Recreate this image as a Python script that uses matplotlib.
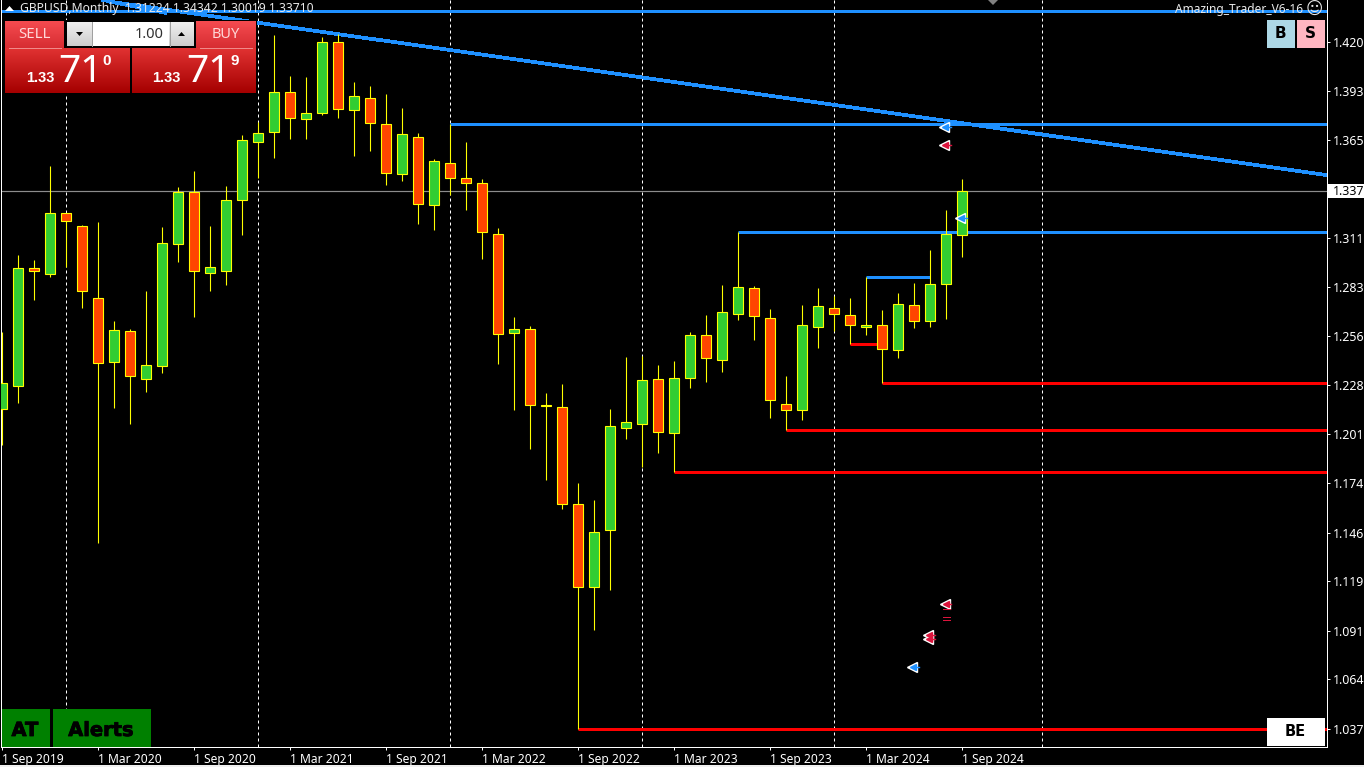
# -*- coding: utf-8 -*-
"""GBPUSD monthly candles, MT4 style screenshot"""

import numpy as np
import matplotlib
matplotlib.use("Agg")
import matplotlib.pyplot as plt
import matplotlib.patheffects as pe
from matplotlib.patches import Rectangle, Polygon

plt.rcParams['font.family'] = ['Noto Sans', 'DejaVu Sans']

# ========== data ==========
opens = [1.2154, 1.2285, 1.2939, 1.2906, 1.3246, 1.3173, 1.2772, 1.2416, 1.2588, 1.2321,
         1.2393, 1.3073, 1.3363, 1.2912, 1.2923, 1.3318, 1.3641, 1.3697, 1.3920, 1.3769,
         1.3803, 1.4198, 1.3820, 1.3886, 1.3742, 1.3463, 1.3669, 1.3290, 1.3524, 1.3441,
         1.3413, 1.3129, 1.2577, 1.2600, 1.2176, 1.2165, 1.1625, 1.1163, 1.1480, 1.2048,
         1.2070, 1.2321, 1.2020, 1.2327, 1.2566, 1.2427, 1.2683, 1.2828, 1.2661, 1.2182,
         1.2148, 1.2611, 1.2717, 1.2678, 1.2611, 1.2622, 1.2483, 1.2733, 1.2644, 1.2850,
         1.31224]
highs = [1.2585, 1.3014, 1.2986, 1.3509, 1.3247, 1.3181, 1.3197, 1.2646, 1.2601, 1.2813,
         1.3170, 1.3392, 1.3481, 1.3175, 1.3398, 1.3682, 1.3754, 1.4239, 1.4011, 1.4005,
         1.4228, 1.4245, 1.3977, 1.3955, 1.3910, 1.3832, 1.3693, 1.3548, 1.3743, 1.3643,
         1.3437, 1.3164, 1.2668, 1.2618, 1.2245, 1.2295, 1.1743, 1.1649, 1.2156, 1.2445,
         1.2451, 1.2401, 1.2423, 1.2585, 1.2679, 1.2846, 1.3142, 1.2841, 1.2713, 1.2340,
         1.2735, 1.2830, 1.2785, 1.2774, 1.2889, 1.2707, 1.2802, 1.2858, 1.3041, 1.3264,
         1.34342]
lows = [1.1955, 1.2191, 1.2763, 1.2893, 1.2948, 1.2720, 1.1411, 1.2163, 1.2074, 1.2252,
        1.2358, 1.2976, 1.2670, 1.2815, 1.2848, 1.3127, 1.3441, 1.3555, 1.3661, 1.3661,
        1.3795, 1.3778, 1.3567, 1.3594, 1.3405, 1.3427, 1.3188, 1.3155, 1.3348, 1.3264,
        1.2993, 1.2408, 1.2152, 1.1934, 1.1762, 1.1600, 1.0373, 1.0926, 1.1149, 1.1990,
        1.1831, 1.1912, 1.1803, 1.2274, 1.2308, 1.2363, 1.2653, 1.2542, 1.2107, 1.2037,
        1.2096, 1.2497, 1.2592, 1.2516, 1.2570, 1.2299, 1.2442, 1.2609, 1.2614, 1.2659,
        1.30019]
closes = [1.2299, 1.2941, 1.2926, 1.3246, 1.3201, 1.2811, 1.2410, 1.2594, 1.2341, 1.2399,
          1.3079, 1.3363, 1.2923, 1.2945, 1.3318, 1.3653, 1.3691, 1.3920, 1.3775, 1.3803,
          1.4198, 1.3825, 1.3898, 1.3747, 1.3469, 1.3686, 1.3296, 1.3535, 1.3441, 1.3413,
          1.3140, 1.2572, 1.2600, 1.2176, 1.2174, 1.1625, 1.1163, 1.1469, 1.2059, 1.2082,
          1.2316, 1.2026, 1.2327, 1.2566, 1.2438, 1.2694, 1.2834, 1.2672, 1.2204, 1.2148,
          1.2622, 1.2728, 1.2683, 1.2622, 1.2622, 1.2488, 1.2739, 1.2644, 1.2850, 1.3129,
          1.33710]

price_ticks = [1.4200, 1.3927, 1.3654, 1.3108, 1.2835, 1.2562, 1.2289, 1.2016,
               1.1744, 1.1465, 1.1198, 1.0918, 1.0652, 1.0373]
price_labels = ["1.420", "1.393", "1.365", "1.311", "1.283", "1.256", "1.228", "1.201",
                "1.174", "1.146", "1.119", "1.091", "1.064", "1.037"]
date_ticks = [0, 6, 12, 18, 24, 30, 36, 42, 48, 54, 60]
date_labels = ["1 Sep 2019", "1 Mar 2020", "1 Sep 2020", "1 Mar 2021", "1 Sep 2021", "1 Mar 2022",
               "1 Sep 2022", "1 Mar 2023", "1 Sep 2023", "1 Mar 2024", "1 Sep 2024"]
separators = [4, 16, 28, 40, 52, 65]
last_price = 1.3371
top_level = 1.4373

# (first bar, last bar, price)
blue_levels = [(28, 83, 1.3743), (46, 83, 1.3142), (54, 58, 1.2891)]
red_levels = [(55, 83, 1.2299), (49, 83, 1.2037), (42, 83, 1.1803), (36, 83, 1.0373), (53, 55, 1.2516)]
trend_bars = [6.7, 28, 82.73]
trend_prices = [1.4425, 1.4155, 1.3459]
stub_bars = [6.3, 10.2]
stub_prices = [1.4434, 1.4362]

# arrows that the indicator left on the chart
arrow_bars = [58.85, 58.85, 59.85, 58.9, 57.85, 57.85, 56.85]
arrow_prices = [1.3727, 1.3626, 1.3220, 1.1070, 1.0895, 1.0872, 1.0718]
arrow_colors = ["#1e90ff", "#dc143c", "#1e90ff", "#dc143c", "#dc143c", "#dc143c", "#1e90ff"]
dash_bars = [58.8, 59.25]
dash_prices = [1.1042, 1.0995, 1.0980]

GREEN = "#32cd32"
ORANGE = "#ff4500"
YELLOW = "#ffff00"
BLUE = "#1e90ff"
RED = "#ff0000"
W, H = 1364, 767
PX = 0.72  # one pixel in points at dpi 100

fig = plt.figure(figsize=(W / 100, H / 100), dpi=100, facecolor="black")
ax = fig.add_axes([1.0 / W, (H - 747) / H, 1325.5 / W, 747 / H], facecolor="black")
ax.set_xlim(-0.081, 82.76)
ax.set_ylim(1.02731, 1.44339)

# separators and levels sit behind the candles
for b in separators:
    ax.axvline(b, color="white", lw=PX, ls=(0, (3, 3)), zorder=1)
ax.axhline(last_price, color="#8c8c8c", lw=PX * 1.2, zorder=1)
ax.axhline(top_level, color=BLUE, lw=PX * 3, zorder=1)
ax.plot(trend_bars, trend_prices, color=BLUE, lw=PX * 2.7, zorder=1, antialiased=False)
ax.plot(stub_bars, stub_prices, color=BLUE, lw=PX * 2.7, zorder=1, antialiased=False)
for first, last, price in blue_levels:
    ax.plot([first, last], [price, price], color=BLUE, lw=PX * 3, zorder=1, solid_capstyle="butt")
for first, last, price in red_levels:
    ax.plot([first, last], [price, price], color=RED, lw=PX * 3, zorder=1, solid_capstyle="butt")

# candles
bars = np.arange(len(opens))
opens, highs, lows, closes = map(np.array, (opens, highs, lows, closes))
ax.vlines(bars, lows, highs, color=YELLOW, lw=PX * 1.1, zorder=2.8)
colors = [GREEN if c >= o else ORANGE for o, c in zip(opens, closes)]
ax.bar(bars, np.abs(closes - opens), bottom=np.minimum(opens, closes), width=0.625,
       color=colors, edgecolor=YELLOW, linewidth=PX * 1.1, zorder=3)

# indicator arrows
for b, p, c in zip(arrow_bars, arrow_prices, arrow_colors):
    ax.plot(b, p, marker="<", ms=6.5, color="white", zorder=4, ls="none")
    ax.plot(b + 0.05, p, marker="<", ms=4.5, color=c, zorder=5, ls="none")
    ax.plot([b, b + 0.42], [p, p], color=c, lw=PX * 1.4, zorder=5)
for p in dash_prices:
    ax.plot(dash_bars, [p, p], color="#dc143c", lw=PX, zorder=4)

# axes
for side in ["left", "right", "bottom"]:
    ax.spines[side].set_color("white")
    ax.spines[side].set_linewidth(PX)
ax.spines["top"].set_visible(False)
ax.yaxis.tick_right()
ax.set_yticks(price_ticks)
ax.set_yticklabels(price_labels)
ax.set_xticks(date_ticks)
ax.set_xticklabels(date_labels, ha="left")
ax.tick_params(axis="y", colors="white", length=2.2, width=PX, labelsize=8.9, pad=2.5)
ax.tick_params(axis="x", colors="white", length=2.2, width=PX, labelsize=8.7, pad=2)

# ========== panels drawn on a pixel overlay ==========
ov = fig.add_axes([0, 0, 1, 1], facecolor="none", zorder=10)
ov.set_xlim(0, W)
ov.set_ylim(H, 0)
ov.axis("off")


def grad_rect(x0, y0, x1, y1, top, bottom):
    # vertical gradient rectangle
    t = np.linspace(0, 1, 64)[:, None, None]
    img = (1 - t) * np.array(top)[None, None, :] + t * np.array(bottom)[None, None, :]
    ov.imshow(img / 255, extent=(x0, x1, y1, y0), aspect="auto", zorder=1, interpolation="bilinear")


def box(x0, y0, x1, y1, color, z=1):
    ov.add_patch(Rectangle((x0, y0), x1 - x0, y1 - y0, facecolor=color, edgecolor="none", zorder=z))


BOLD = ["Liberation Sans"]

# trade panel
box(4, 20, 257, 94, "black", 0.5)
grad_rect(5, 21, 64, 48, (245, 75, 80), (215, 45, 50))
grad_rect(196, 21, 256, 48, (245, 75, 80), (215, 45, 50))
grad_rect(5, 48, 130, 93, (225, 50, 50), (165, 0, 0))
grad_rect(132, 48, 256, 93, (225, 50, 50), (165, 0, 0))
ov.plot([9, 61], [48, 48], color="#f08a8a", lw=PX)
ov.plot([200, 252], [48, 48], color="#f08a8a", lw=PX)
grad_rect(67, 22, 194, 46, (240, 240, 240), (205, 205, 205))
box(92, 22, 169, 46, "white", 2)
ov.plot([91.5, 91.5], [22, 46], color="#a0a0a0", lw=PX, zorder=3)
ov.plot([169.5, 169.5], [22, 46], color="#a0a0a0", lw=PX, zorder=3)
ov.add_patch(Polygon([(76, 32), (83, 32), (79.5, 36)], facecolor="black", zorder=3))
ov.add_patch(Polygon([(178, 36), (185, 36), (181.5, 32)], facecolor="black", zorder=3))
ov.text(164, 34, "1.00", color="#303030", fontsize=10.5, ha="right", va="center", zorder=4)
ov.text(34, 35, "SELL", color="#ffd8d8", fontsize=10.8, ha="center", va="center", zorder=4)
ov.text(226, 35, "BUY", color="#ffd8d8", fontsize=10.5, ha="center", va="center", zorder=4)
for x_small, x_big, x_sup, sup in [(40, 81, 107, "0"), (166, 208, 235, "9")]:
    ov.text(x_small, 78, "1.33", color="white", fontsize=10.5, fontweight="bold", family=BOLD,
            ha="center", va="center", zorder=4)
    ov.text(x_big, 72, "71", color="white", fontsize=28, ha="center", va="center", zorder=4)
    ov.text(x_sup, 61, sup, color="white", fontsize=11, fontweight="bold", family=BOLD,
            ha="center", va="center", zorder=4)

# header
ov.add_patch(Polygon([(5, 11), (14, 11), (9.5, 6)], facecolor="white", zorder=4))
ov.text(20, 8.5, "GBPUSD,Monthly  1.31224 1.34342 1.30019 1.33710", color="#e8e8e8", fontsize=8.75,
        ha="left", va="center", zorder=4)
ov.text(1175, 9.5, "Amazing_Trader_V6-16", color="#e8e8e8", fontsize=8.6, ha="left", va="center", zorder=4)
ov.text(1314, 9, "\u263a", color="#e8e8e8", fontsize=12, ha="center", va="center",
        family=["DejaVu Sans"], zorder=4)
ov.add_patch(Polygon([(988, 0), (998, 0), (993, 5)], facecolor="#808080", zorder=4))

# B / S buttons
box(1267, 20, 1295, 48, "#add8e6", 2)
box(1297, 20, 1325, 48, "#ffb6c1", 2)
ov.text(1280, 34, "B", color="black", fontsize=11, fontweight="bold", family=["DejaVu Sans"],
        ha="center", va="center", zorder=4)
ov.text(1310, 34, "S", color="black", fontsize=11, fontweight="bold", family=["DejaVu Sans"],
        ha="center", va="center", zorder=4)

# AT / Alerts buttons
box(2, 709, 50, 747, "#008000", 2)
box(53, 709, 151, 747, "#008000", 2)
heavy = [pe.withStroke(linewidth=0.6, foreground="black")]
ov.text(25, 730.5, "AT", color="black", fontsize=14, fontweight="bold", family=["DejaVu Sans"],
        ha="center", va="center", zorder=4, path_effects=heavy)
ov.text(101, 730.5, "Alerts", color="black", fontsize=14, fontweight="bold", family=["DejaVu Sans"],
        ha="center", va="center", zorder=4, path_effects=heavy)

# BE box and last price tag
box(1267, 718, 1325, 746, "white", 2)
ov.text(1295, 732, "BE", color="black", fontsize=10.5, fontweight="bold", family=["DejaVu Sans"],
        ha="center", va="center", zorder=4)
box(1327.5, 184, 1364, 198, "white", 2)
ov.text(1333, 191.5, "1.337", color="black", fontsize=8.9, ha="left", va="center", zorder=4)

# light strip of the window at the very bottom
box(0, 765, W, H, "#f0f0f0", 2)

fig.savefig("out.png", dpi=100, facecolor="black")
